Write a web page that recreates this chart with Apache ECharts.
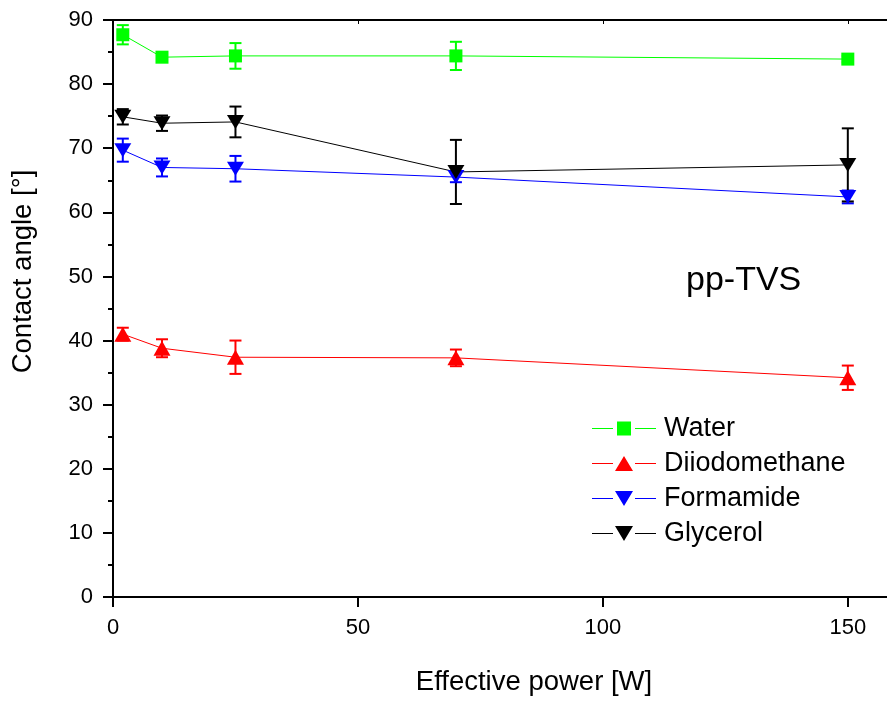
<!DOCTYPE html>
<html>
<head>
<meta charset="utf-8">
<script src="https://cdn.jsdelivr.net/npm/echarts@6/dist/echarts.min.js"></script>
<style>
	html, body { margin: 0; padding: 0; background: #fff; }
	#chart { width: 887px; height: 707px; }
</style>
</head>
<body>
<div id="chart"></div>
<script>
// effective power [W]
const power = [2, 10, 25, 70, 150];

// contact angles [deg] and their errors
const water = [87.7, 84.2, 84.4, 84.4, 83.9];
const waterErr = [1.5, 0.6, 2.0, 2.2, 0.5];
const diiodomethane = [41.0, 38.8, 37.4, 37.3, 34.2];
const diiodomethaneErr = [1.0, 1.4, 2.6, 1.3, 1.9];
const formamide = [69.7, 67.0, 66.8, 65.5, 62.4];
const formamideErr = [1.8, 1.4, 2.0, 0.8, 1.0];
const glycerol = [74.9, 73.9, 74.1, 66.3, 67.4];
const glycerolErr = [1.2, 1.2, 2.4, 5.0, 5.7];

const FONT = "'Liberation Sans', Arial, sans-serif";
const DOWN = 'path://M0,0 L20,0 L10,17 Z';

// legend icons: line - gap - marker - gap - line (64 x 15 box)
const LINES = 'M0,7 L21,7 L21,8 L0,8 Z M43,7 L64,7 L64,8 L43,8 Z ';
const ICON_SQUARE = 'path://' + LINES + 'M25,0.5 L39,0.5 L39,14.5 L25,14.5 Z M0,0 L0,0 M64,15 L64,15';
const ICON_UP = 'path://' + LINES + 'M23,15 L32,0 L41,15 Z';
const ICON_DOWN = 'path://' + LINES + 'M23,0 L41,0 L32,15 Z';

const liquids = [
	{ name: 'Water', values: water, err: waterErr, color: '#00ff00', symbol: 'rect', size: [13, 13], icon: ICON_SQUARE },
	{ name: 'Diiodomethane', values: diiodomethane, err: diiodomethaneErr, color: '#ff0000', symbol: 'triangle', size: [17, 15], icon: ICON_UP },
	{ name: 'Formamide', values: formamide, err: formamideErr, color: '#0000ff', symbol: DOWN, size: [17, 14], icon: ICON_DOWN },
	{ name: 'Glycerol', values: glycerol, err: glycerolErr, color: '#000000', symbol: DOWN, size: [17, 14], icon: ICON_DOWN }
];

const errorBars = (color) => function (params, api) {
	const x = api.value(0);
	const top = api.coord([x, api.value(2)]);
	const bottom = api.coord([x, api.value(1)]);
	const half = 6;
	const style = { stroke: color, lineWidth: 2 };
	return {
		type: 'group',
		children: [
			{ type: 'line', shape: { x1: top[0], y1: top[1], x2: bottom[0], y2: bottom[1] }, style: style },
			{ type: 'line', shape: { x1: top[0] - half, y1: top[1], x2: top[0] + half, y2: top[1] }, style: style },
			{ type: 'line', shape: { x1: bottom[0] - half, y1: bottom[1], x2: bottom[0] + half, y2: bottom[1] }, style: style }
		]
	};
};

const seriesList = [];
liquids.forEach((liq) => {
	seriesList.push({
		type: 'custom',
		name: liq.name + ' err',
		renderItem: errorBars(liq.color),
		encode: { x: 0, y: [1, 2] },
		data: power.map((p, i) => [p, liq.values[i] - liq.err[i], liq.values[i] + liq.err[i]]),
		z: 3,
		silent: true
	});
});
liquids.forEach((liq) => {
	seriesList.push({
		type: 'line',
		name: liq.name,
		data: power.map((p, i) => [p, liq.values[i]]),
		symbol: liq.symbol,
		symbolSize: liq.size,
		showAllSymbol: true,
		color: liq.color,
		itemStyle: { color: liq.color, borderWidth: 0 },
		lineStyle: { color: liq.color, width: 1 },
		z: 4
	});
});

const myChart = echarts.init(document.getElementById('chart'), null, { renderer: 'canvas' });

const option = {
	animation: false,
	backgroundColor: '#ffffff',
	textStyle: { fontFamily: FONT },
	title: {
		text: 'pp-TVS',
		left: 681,
		top: 259,
		textStyle: { fontFamily: FONT, fontSize: 34, fontWeight: 'normal', color: '#000' }
	},
	legend: {
		data: liquids.map((l) => ({ name: l.name, icon: l.icon })),
		orient: 'vertical',
		left: 587,
		top: 410,
		padding: 5,
		itemWidth: 64,
		itemHeight: 15,
		itemGap: 8,
		symbolKeepAspect: false,
		textStyle: { fontFamily: FONT, fontSize: 27, color: '#000', padding: [0, 0, 0, 3] }
	},
	grid: { left: 113, right: 0, top: 20, bottom: 110, containLabel: false },
	xAxis: [
		{
			type: 'value',
			min: 0,
			max: 158,
			interval: 50,
			name: 'Effective power [W]',
			nameLocation: 'middle',
			nameGap: 71,
			nameTextStyle: { fontFamily: FONT, fontSize: 27.5, color: '#000', padding: [0, 0, 0, 68] },
			axisLine: { lineStyle: { color: '#000', width: 2 } },
			axisTick: { inside: false, length: 10, lineStyle: { color: '#000', width: 2 } },
			axisLabel: { fontFamily: FONT, fontSize: 22, color: '#000', margin: 20, showMaxLabel: false },
			splitLine: { show: false }
		},
		{
			type: 'value',
			position: 'top',
			min: 0,
			max: 158,
			interval: 50,
			axisLine: { onZero: false, lineStyle: { color: '#000', width: 2 } },
			axisTick: { inside: true, length: 4, lineStyle: { color: '#000', width: 1 } },
			axisLabel: { show: false },
			splitLine: { show: false }
		}
	],
	yAxis: {
		type: 'value',
		min: 0,
		max: 90,
		interval: 10,
		name: 'Contact angle [°]',
		nameLocation: 'middle',
		nameGap: 76,
		nameTextStyle: { fontFamily: FONT, fontSize: 27.5, color: '#000', padding: [0, 0, 0, 74] },
		axisLine: { show: true, lineStyle: { color: '#000', width: 2 } },
		axisTick: { show: true, length: 10, lineStyle: { color: '#000', width: 2 } },
		minorTick: { show: true, splitNumber: 2, length: 5, lineStyle: { color: '#000', width: 2 } },
		axisLabel: { fontFamily: FONT, fontSize: 22, color: '#000', margin: 20 },
		splitLine: { show: false }
	},
	series: seriesList
};

myChart.setOption(option);
</script>
</body>
</html>
